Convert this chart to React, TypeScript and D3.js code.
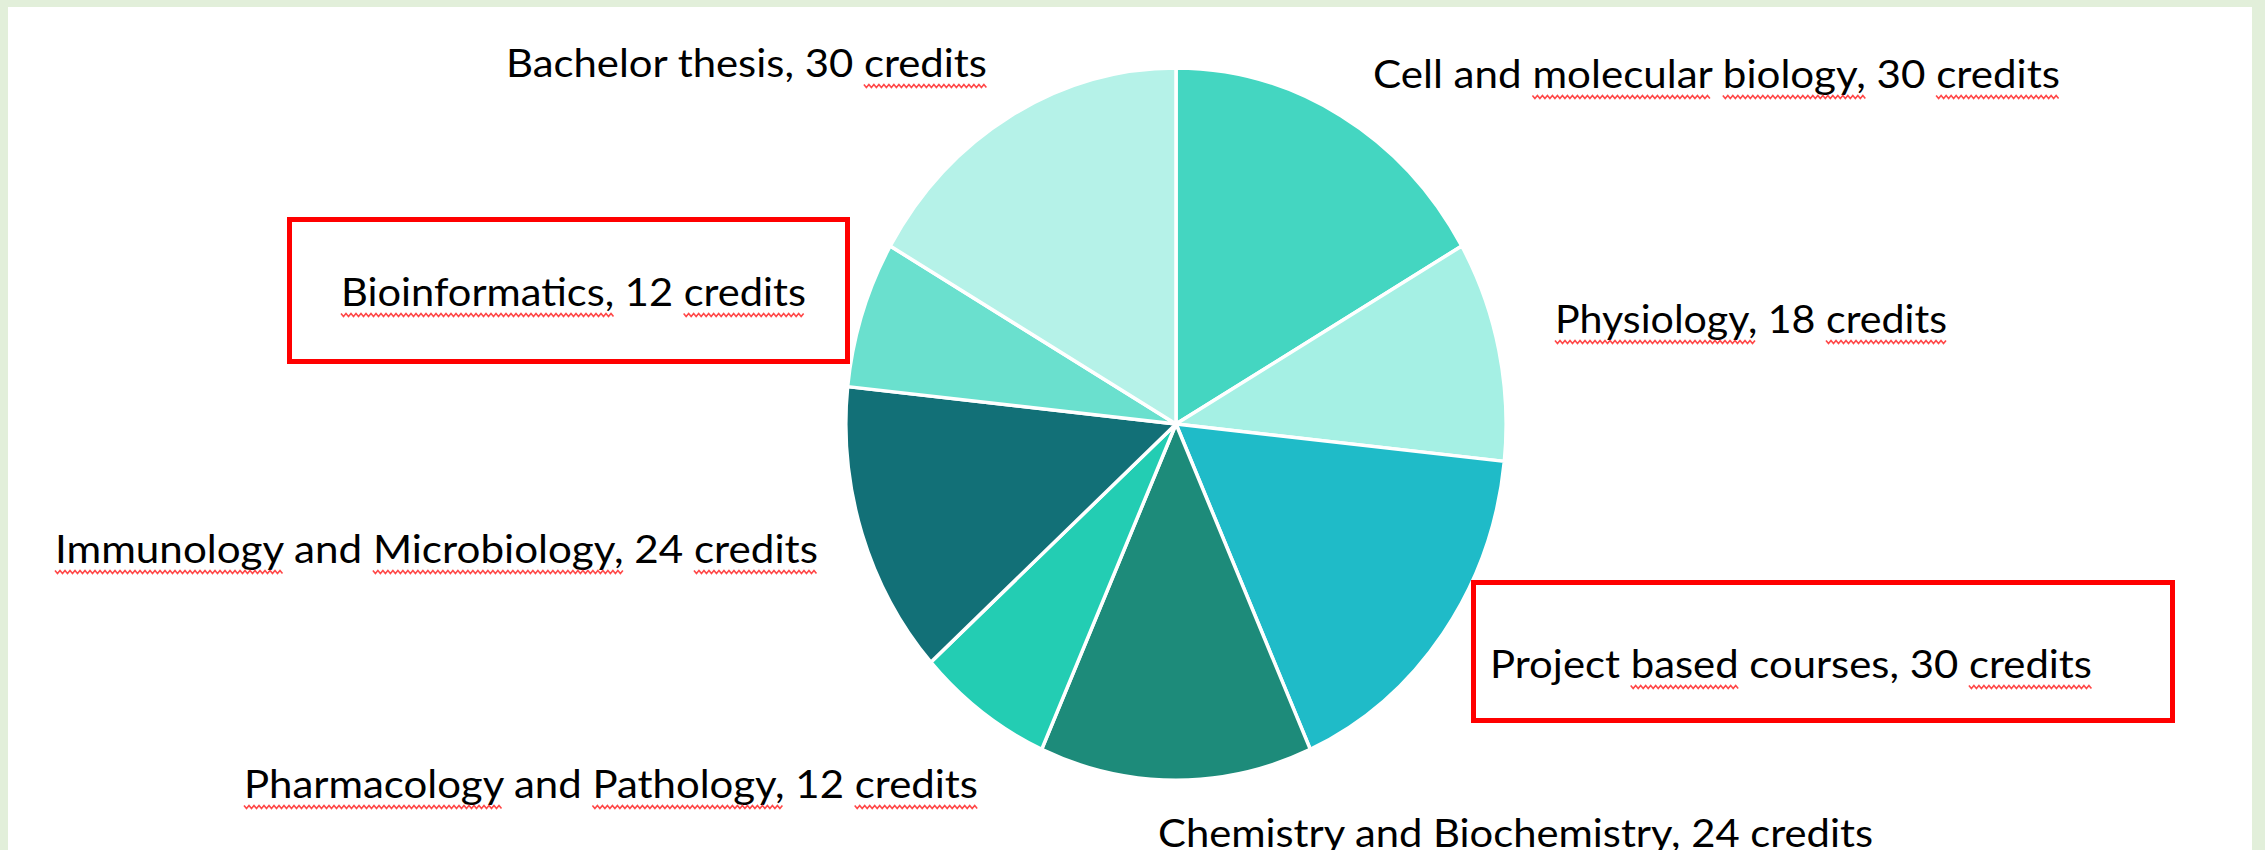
import { useEffect, useRef } from 'react'
import * as d3 from 'd3'

// credits per course, clockwise from 12 o'clock
const courses = [
  'Cell and molecular biology',
  'Physiology',
  'Project based courses',
  'Chemistry and Biochemistry',
  'Pharmacology and Pathology',
  'Immunology and Microbiology',
  'Bioinformatics',
  'Bachelor thesis',
]
const credits = [30, 18, 30, 24, 12, 24, 12, 30]
const sliceColors = ['#44D6C1', '#A5F0E4', '#1FBBC8', '#1D8B7A', '#23CDB3', '#127077', '#6AE0CE', '#B5F2E8']
const highlighted = ['Bioinformatics', 'Project based courses']
// words flagged by the spell checker (red squiggles)
const flaggedWords = [
  ['molecular', 'biology,', 'credits'],
  ['Physiology,', 'credits'],
  ['based', 'credits'],
  [],
  ['Pharmacology', 'Pathology,', 'credits'],
  ['Immunology', 'Microbiology,', 'credits'],
  ['Bioinformatics,', 'credits'],
  ['thesis', 'credits'],
]

// label placement (left x, baseline y, rendered width)
const labelLayout = [
  { x: 1373, y: 88, w: 687 },
  { x: 1555, y: 333, w: 392 },
  { x: 1490, y: 678, w: 602 },
  { x: 1158, y: 847, w: 715 },
  { x: 244, y: 798, w: 734 },
  { x: 55, y: 563, w: 763 },
  { x: 341, y: 306, w: 465 },
  { x: 506, y: 77, w: 481 },
]
const boxLayout: Record<string, { x: number; y: number; w: number; h: number }> = {
  'Bioinformatics': { x: 289.5, y: 219.5, w: 558, h: 142 },
  'Project based courses': { x: 1473.5, y: 582.5, w: 699, h: 138 },
}

const W = 2265
const H = 850
const cx = 1176
const cy = 424
const rx = 330
const ry = 356

export default function App() {
  const svgRef = useRef<SVGSVGElement>(null)

  useEffect(() => {
    if (!svgRef.current) return
    const svg = d3.select(svgRef.current)
    svg.selectAll('*').remove()

    svg.append('rect').attr('width', W).attr('height', H).attr('fill', '#E2EFDA')
    svg.append('rect').attr('x', 8).attr('y', 7).attr('width', 2244).attr('height', H - 7).attr('fill', '#ffffff')

    const pie = d3.pie<number>().sort(null).value(d => d)
    const arc = d3.arc<d3.PieArcDatum<number>>().innerRadius(0).outerRadius(1)

    const pieG = svg.append('g').attr('transform', `translate(${cx},${cy}) scale(${rx},${ry})`)
    pieG.selectAll('path')
      .data(pie(credits))
      .join('path')
      .attr('d', arc)
      .attr('fill', (_, i) => sliceColors[i])
      .attr('stroke', '#ffffff')
      .attr('stroke-width', 3.5)
      .attr('vector-effect', 'non-scaling-stroke')
      .attr('stroke-linejoin', 'round')

    // highlight boxes
    highlighted.forEach(name => {
      const b = boxLayout[name]
      svg.append('rect')
        .attr('x', b.x).attr('y', b.y)
        .attr('width', b.w).attr('height', b.h)
        .attr('fill', 'none')
        .attr('stroke', '#FF0000')
        .attr('stroke-width', 5)
    })

    const labelsG = svg.append('g')
    const squigG = svg.append('g')

    courses.forEach((course, i) => {
      const pos = labelLayout[i]
      const label = `${course}, ${credits[i]} credits`
      const t = labelsG.append('text')
        .attr('x', pos.x)
        .attr('y', pos.y)
        .attr('textLength', pos.w)
        .attr('lengthAdjust', 'spacingAndGlyphs')
        .attr('fill', '#000000')
        .style('font-family', 'Lato, "Open Sans", sans-serif')
        .style('font-size', '38px')
        .text(label)

      const node = t.node() as SVGTextElement
      const words = label.split(' ')
      let idx = 0
      words.forEach(word => {
        const start = idx
        idx += word.length + 1
        if (!flaggedWords[i].includes(word)) return
        const x0 = node.getStartPositionOfChar(start).x
        const x1 = node.getEndPositionOfChar(start + word.length - 1).x
        const pts: [number, number][] = []
        let k = 0
        for (let x = x0; x <= x1; x += 2.5) {
          pts.push([x, pos.y + 9 + (k % 2 === 0 ? -1.5 : 1.5)])
          k++
        }
        squigG.append('path')
          .attr('d', d3.line()(pts))
          .attr('fill', 'none')
          .attr('stroke', '#FF1A1A')
          .attr('stroke-opacity', 0.8)
          .attr('stroke-width', 1.6)
      })
    })
  }, [])

  return (
    <div style={{ position: 'absolute', left: 0, top: 0 }}>
      <svg ref={svgRef} width={W} height={H} style={{ display: 'block' }}></svg>
    </div>
  )
}
